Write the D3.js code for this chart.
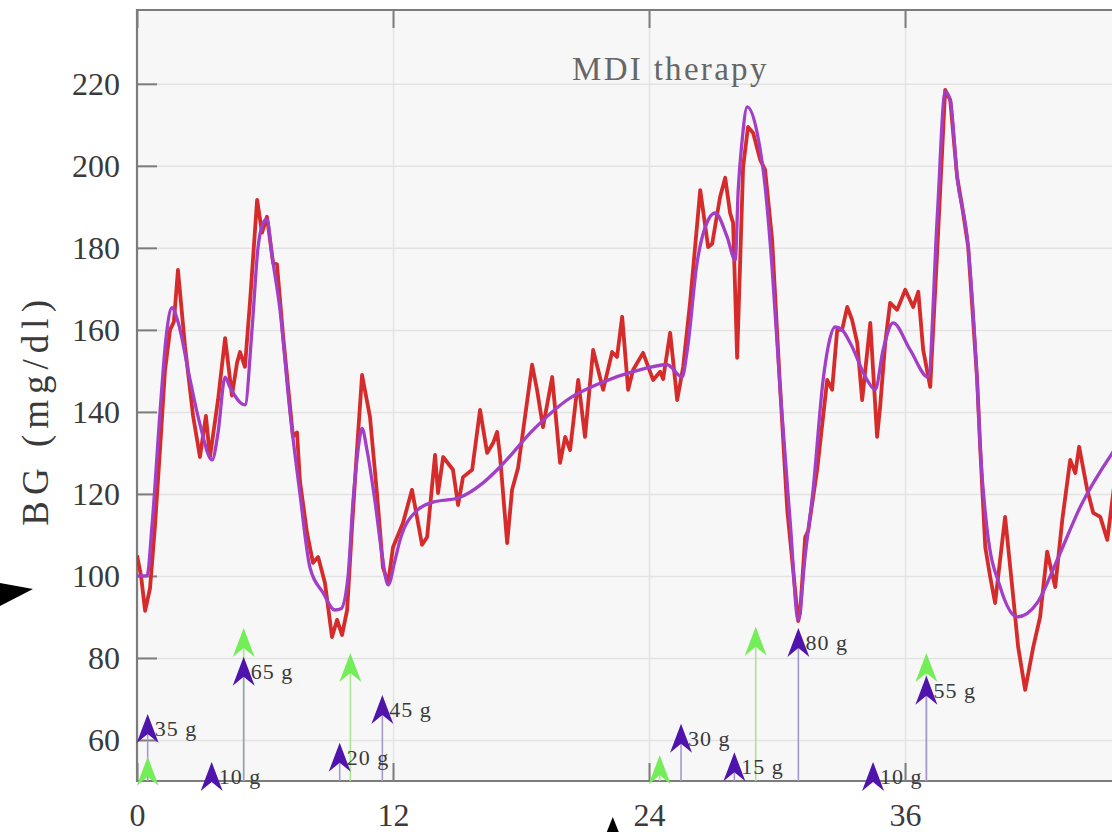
<!DOCTYPE html>
<html><head><meta charset="utf-8">
<script src="https://cdn.jsdelivr.net/npm/d3@7"></script>
<style>body{margin:0;background:#fff;overflow:hidden}</style>
</head><body>
<svg id="c" width="1112" height="832"></svg>
<script>
// ---------- data ----------
const xTicks = [0, 12, 24, 36];
const yTicks = [60, 80, 100, 120, 140, 160, 180, 200, 220];
const titleText = "MDI therapy";
const yLabel = "BG (mg/dl)";

// measured CGM (red), time in hours
const cgmTime = [0.00,0.19,0.38,0.61,0.84,1.08,1.31,1.55,1.73,1.92,2.25,2.63,2.95,3.23,3.42,3.80,4.13,4.45,4.69,4.83,5.06,5.30,5.63,5.86,6.09,6.38,6.56,6.84,7.31,7.50,7.64,7.97,8.25,8.49,8.81,9.14,9.38,9.61,9.85,10.08,10.31,10.55,10.92,11.25,11.53,11.77,12.00,12.47,12.89,13.36,13.60,13.97,14.11,14.35,14.81,15.05,15.28,15.71,16.08,16.41,16.69,16.88,17.02,17.35,17.58,17.86,18.52,18.75,19.03,19.46,19.83,20.07,20.30,20.68,21.00,21.38,21.85,22.27,22.50,22.74,23.02,23.25,23.72,24.19,24.52,24.66,24.99,25.32,25.60,25.93,26.40,26.77,26.96,27.33,27.57,27.80,27.94,28.13,28.41,28.64,28.88,29.21,29.44,29.77,30.10,30.48,30.99,31.08,31.32,31.46,31.88,32.35,32.58,32.82,33.05,33.29,33.52,33.76,33.99,34.37,34.69,34.83,35.07,35.30,35.63,36.01,36.38,36.62,36.85,37.18,37.51,37.88,38.12,38.44,38.68,38.96,39.38,39.52,39.76,39.99,40.22,40.69,41.07,41.30,41.63,42.01,42.33,42.66,43.04,43.37,43.74,43.98,44.16,44.54,44.82,45.15,45.48,45.85];
const cgmBG   = [105,100,91.5,97,112,131,150,160,162,174.6,156,139,129,139,129,143,158,144,152,154.6,151,167,191.7,183.7,187.6,176.3,176,159,134,135,123,110.5,103.2,104.6,98.3,85.1,89.3,85.6,91.7,112,130.7,149,138.8,120,102,98.3,107,113,121,107.6,109.5,129.5,120.2,129,125.9,117.3,124.1,125.9,140.5,130,132.4,135.1,129,108,121,126.3,151.5,145.4,136.3,148.5,127.6,133.9,130.7,147.8,133.9,155.1,145.4,154.6,153.4,163.2,145.4,150.2,154.4,147.8,149.8,148,159.3,142.9,151,167,194.1,180.2,181,192.4,197.1,188.5,186.1,153.2,199.8,209.5,208,201.5,199,182,150,116,89,91,109.5,111,125.9,147.8,145.4,160,160,165.6,162.4,156.8,142.9,161.7,133.9,141.2,156.8,166.6,164.9,169.8,165.6,169.3,155.1,146.1,179.5,218.5,216,197.3,190,180.2,147.8,131.5,107,99.8,93.4,114.4,94.9,82.7,72.2,82.7,90,105.9,97.3,113.7,128.3,125.1,131.5,121,115.4,114.4,108.8,124];

// model fit (purple)
const fitTime = [0.00,0.47,0.70,1.08,1.36,1.64,1.92,2.48,2.95,3.52,3.80,4.13,4.36,5.06,5.39,5.67,5.91,6.09,6.33,6.70,7.17,7.64,8.11,8.72,9.28,9.56,9.89,10.13,10.36,10.55,10.78,11.16,11.49,11.77,12.10,12.33,13.13,13.88,15.05,16.22,17.02,18.57,20.16,21.71,23.25,24.85,25.55,25.79,26.25,26.63,27.10,27.66,28.04,28.18,28.36,28.60,29.07,29.44,29.77,30.15,30.62,30.99,31.32,31.69,32.16,32.40,32.72,33.05,33.43,34.22,34.60,34.97,35.44,36.24,37.08,37.51,37.88,38.12,38.44,38.96,39.38,39.52,39.85,40.46,41.26,42.19,43.13,44.21,45.85];
const fitBG   = [100,100,112,140,158,165.4,162,148,137,128.3,135,148.5,146,141.7,160,180,186,187,178,165,140,120,102,95.9,91.7,92,99.8,118.5,130.7,136,130.7,118,105,97.8,104,108.8,116,118,119,122.7,126.6,135.6,142.9,147,149.8,151.5,148.5,155,176.3,185,188.5,182.7,177,194.1,206,214.4,208,195,175,145,113,89.3,105,121,147.8,156,160.7,160,156.8,147.8,145.4,155.1,161.7,155.1,148.5,187.6,218,216,197.3,180.2,147.1,131.5,111.2,97.3,90,93.4,103.9,116.8,131];

// meals (purple arrows, labelled in grams)
const mealTime  = [0.5, 3.5, 5, 9.5, 11.5, 25.5, 28, 31, 34.5, 37];
const mealCarbs = [35, 10, 65, 20, 45, 30, 15, 80, 10, 55];
// insulin boluses (green arrows), arrow top on BG axis
const bolusTime = [0.5, 5, 10, 24.5, 29, 37];
const bolusTop  = [55.9, 87.3, 81.2, 56.3, 87.6, 81.2];
// black pointer annotations (from original figure)
const pointerBG = [96.8];
const pointerTime = [22.3];

// ---------- chart ----------
const W = 1112, H = 832;
const svg = d3.select('#c');
const x = d3.scaleLinear().domain([0, 45.7]).range([137, 1112]);
const y = d3.scaleLinear().domain([50, 238]).range([781, 10]);
const carbTip = d3.scaleLinear().domain([0, 80]).range([50, 87.3]);
const serif = '"Liberation Serif","Times New Roman",serif';
const axisCol = '#7c7c7c';
const textCol = '#3a3a3a';

const x0 = x.range()[0], x1 = x.range()[1] + 30;
const yTop = y.range()[1], yBot = y.range()[0];

svg.append('rect').attr('x', x0).attr('y', yTop).attr('width', x1 - x0).attr('height', yBot - yTop).attr('fill', '#f7f7f7');

// grid
const gy = svg.append('g').attr('transform', `translate(${x0},0)`)
  .call(d3.axisLeft(y).tickValues(yTicks).tickSize(-(x1 - x0)).tickFormat(''));
gy.select('.domain').remove();
gy.selectAll('line').attr('stroke', '#e3e3e3').attr('stroke-width', 1.5);
const gx = svg.append('g').attr('transform', `translate(0,${yBot})`)
  .call(d3.axisBottom(x).tickValues(xTicks.filter(d => d > 0)).tickSize(-(yBot - yTop)).tickFormat(''));
gx.select('.domain').remove();
gx.selectAll('line').attr('stroke', '#e3e3e3').attr('stroke-width', 1.5);

// axes
const ax = svg.append('g').attr('transform', `translate(${x0},0)`)
  .call(d3.axisLeft(y).tickValues(yTicks).tickSize(-20).tickPadding(17));
const bx = svg.append('g').attr('transform', `translate(0,${yBot})`)
  .call(d3.axisBottom(x).tickValues(xTicks).tickSize(-18).tickPadding(22));
const tx = svg.append('g').attr('transform', `translate(0,${yTop})`)
  .call(d3.axisTop(x).tickValues(xTicks).tickSize(-18).tickFormat(''));
[ax, bx, tx].forEach(g => {
  g.select('.domain').remove();
  g.selectAll('line').attr('stroke', axisCol).attr('stroke-width', 2);
  g.selectAll('text').attr('font-family', serif).attr('font-size', 32).attr('fill', textCol);
});
// frame lines
svg.append('path').attr('d', d3.line()([[x1, yTop], [x0, yTop], [x0, yBot], [x1, yBot]]))
  .attr('fill', 'none').attr('stroke', axisCol).attr('stroke-width', 2.2);

// clip
svg.append('clipPath').attr('id', 'clip').append('rect')
  .attr('x', x0).attr('y', yTop).attr('width', x1 - x0).attr('height', yBot - yTop);

const line = d3.line().x(d => x(d[0])).y(d => y(d[1]));
const plot = svg.append('g').attr('clip-path', 'url(#clip)');
plot.append('path').datum(cgmTime.map((t, i) => [t, cgmBG[i]])).attr('d', line)
  .attr('fill', 'none').attr('stroke', '#d62b2b').attr('stroke-width', 3.8).attr('stroke-linejoin', 'round');
plot.append('path').datum(fitTime.map((t, i) => [t, fitBG[i]])).attr('d', d3.line().x(d => x(d[0])).y(d => y(d[1])).curve(d3.curveMonotoneX))
  .attr('fill', 'none').attr('stroke', '#a23fc6').attr('stroke-width', 3.3).attr('stroke-linejoin', 'round');

// title
svg.append('text').attr('x', x(25)).attr('y', 80).attr('text-anchor', 'middle')
  .attr('font-family', serif).attr('font-size', 33).attr('letter-spacing', 2.3).attr('fill', '#666').text(titleText);
// y label
svg.append('text').attr('transform', `translate(48,${y(140.5)}) rotate(-90)`).attr('text-anchor', 'middle')
  .attr('font-family', serif).attr('font-size', 37).attr('letter-spacing', 6).attr('fill', textCol).text(yLabel);

// arrows
const head = 'M0,0 L11,29 L0,20 L-11,29 Z';
const arrows = svg.append('g');
const bolus = bolusTime.map((t, i) => ({ t, top: bolusTop[i] }));
const meals = mealTime.map((t, i) => ({ t, g: mealCarbs[i], top: carbTip(mealCarbs[i]) }));
arrows.selectAll('.bs').data(bolus).join('line')
  .attr('x1', d => x(d.t)).attr('x2', d => x(d.t)).attr('y1', yBot).attr('y2', d => y(d.top) + 20)
  .attr('stroke', '#a6e892').attr('stroke-width', 1.6);
arrows.selectAll('.ms').data(meals).join('line')
  .attr('x1', d => x(d.t)).attr('x2', d => x(d.t)).attr('y1', yBot).attr('y2', d => y(d.top) + 20)
  .attr('stroke', '#a497cf').attr('stroke-width', 1.6);
arrows.selectAll('.bh').data(bolus).join('path')
  .attr('transform', d => `translate(${x(d.t)},${y(d.top)})`).attr('d', head).attr('fill', '#74ee58');
arrows.selectAll('.mh').data(meals).join('path')
  .attr('transform', d => `translate(${x(d.t)},${y(d.top)})`).attr('d', head).attr('fill', '#4e14ac');
arrows.selectAll('.ml').data(meals).join('text')
  .attr('x', d => x(d.t) + 7).attr('y', d => y(d.top) + 22)
  .attr('font-family', serif).attr('font-size', 22).attr('letter-spacing', 1).attr('fill', textCol)
  .text(d => d.g + ' g');

// black pointers
svg.selectAll('.pl').data(pointerBG).join('path')
  .attr('d', d => `M0,${y(d) - 6} L33,${y(d)} L0,${y(d) + 17} Z`).attr('fill', '#000');
svg.selectAll('.pb').data(pointerTime).join('path')
  .attr('d', d => `M${x(d)},817 L${x(d) + 6},${H} L${x(d) - 6},${H} Z`).attr('fill', '#000');
</script>
</body></html>
